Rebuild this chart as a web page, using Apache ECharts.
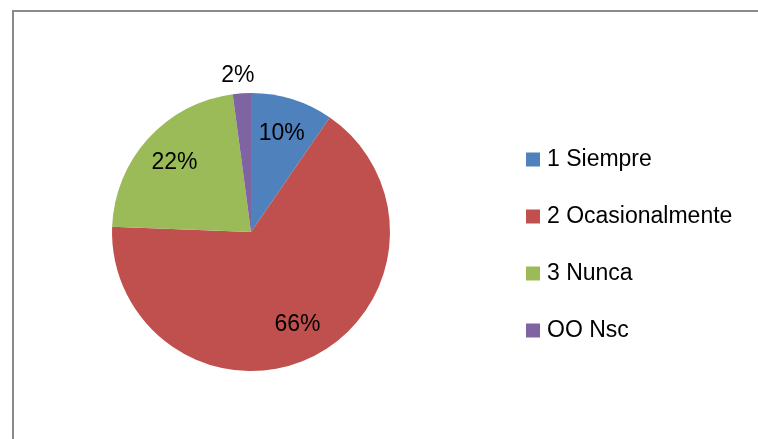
<!DOCTYPE html>
<html>
<head>
<meta charset="utf-8">
<script src="https://cdn.jsdelivr.net/npm/echarts@6/dist/echarts.min.js"></script>
<style>
  html, body { margin: 0; padding: 0; background: #fff; overflow: hidden; }
  #wrap { position: relative; width: 758px; height: 439px; overflow: hidden; }
  #frame { position: absolute; left: 12px; top: 10px; width: 900px; height: 600px;
           border: 2px solid #8a8a8a; box-sizing: border-box; }
  #chart { position: absolute; left: 0; top: 0; width: 758px; height: 439px; }
</style>
</head>
<body>
<div id="wrap">
  <div id="frame"></div>
  <div id="chart"></div>
</div>
<script>
// respuestas por categoría (porcentaje)
const categories = ['1 Siempre', '2 Ocasionalmente', '3 Nunca', 'OO Nsc'];
const values = [9.6, 66.0, 22.3, 2.1];
const colors = ['#4F81BD', '#C0504D', '#9BBB59', '#8064A2'];

const font = '"Liberation Sans", Arial, sans-serif';

const pieData = categories.map((name, i) => ({ name: name, value: values[i] }));

// misma división, solo para colocar las etiquetas más hacia afuera
const labelData = categories.map((name, i) => {
  const item = { name: name, value: values[i] };
  if (name === 'OO Nsc') {
    item.label = { position: 'outside', offset: [18, -12] };
    item.labelLine = { show: false, length: 6, length2: 0 };
  }
  return item;
});

const myChart = echarts.init(document.getElementById('chart'));

const option = {
  animation: false,
  color: colors,
  legend: {
    orient: 'vertical',
    left: 521,
    top: 143,
    itemWidth: 14,
    itemHeight: 14,
    itemGap: 34,
    itemStyle: { borderWidth: 0 },
    icon: 'rect',
    data: categories,
    textStyle: {
      fontFamily: font,
      fontSize: 23,
      lineHeight: 22,
      padding: [0, 0, 0, 2],
      color: '#000'
    }
  },
  series: [
    {
      type: 'pie',
      center: [251, 232],
      radius: [0, 139],
      startAngle: 90,
      clockwise: true,
      silent: true,
      label: { show: false },
      labelLine: { show: false },
      data: pieData
    },
    {
      type: 'pie',
      center: [251, 232],
      radius: [62, 139],
      startAngle: 90,
      clockwise: true,
      silent: true,
      itemStyle: { color: 'transparent' },
      label: {
        show: true,
        position: 'inside',
        fontFamily: font,
        fontSize: 23,
        color: '#000',
        formatter: p => Math.round(p.percent) + '%'
      },
      labelLine: { show: false },
      data: labelData
    }
  ]
};

myChart.setOption(option);
</script>
</body>
</html>
